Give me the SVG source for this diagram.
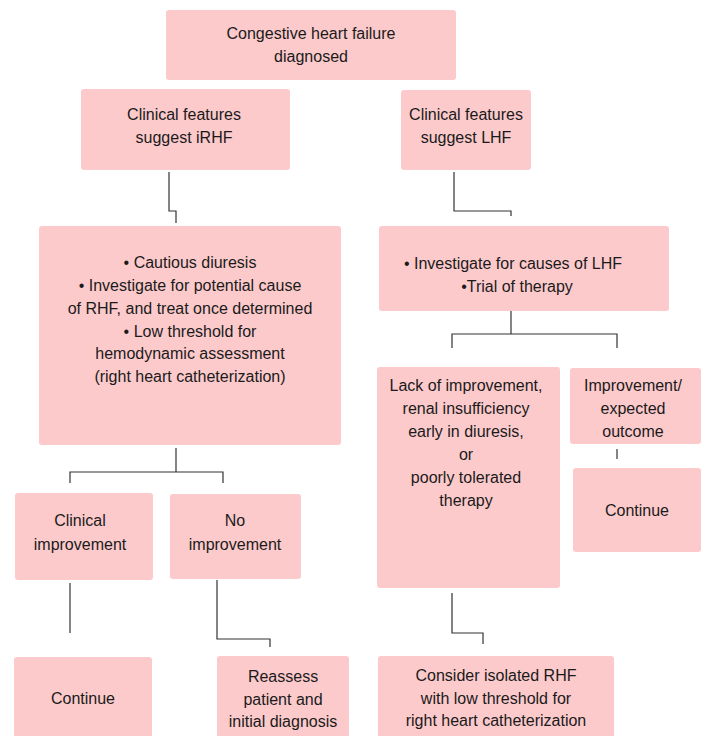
<svg xmlns="http://www.w3.org/2000/svg" width="708" height="736" viewBox="0 0 708 736">
<style>
.box{fill:#fdcacc;}
.t{font-family:"Liberation Sans",Arial,sans-serif;font-size:16px;fill:#1a1a1a;text-anchor:middle;}
.c{fill:none;stroke:#333;stroke-width:1.2;}
</style>
<rect width="708" height="736" fill="#fff"/>
<g id="connectors">
<polyline class="c" points="169,172 169,211 176,211 176,223"/>
<polyline class="c" points="454,172 454,211 511,211 511,216"/>
<polyline class="c" points="176,448 176,472"/>
<polyline class="c" points="70,483 70,472 223,472 223,483"/>
<polyline class="c" points="70,583 70,633"/>
<polyline class="c" points="217,580 217,639 270,639 270,647"/>
<polyline class="c" points="511,311 511,334"/>
<polyline class="c" points="452,348 452,334 617,334 617,348"/>
<polyline class="c" points="617,449 617,459"/>
<polyline class="c" points="452,593 452,633 483,633 483,644"/>
</g>
<g id="n_chf"><rect class="box" x="166" y="10" width="290" height="70" rx="3"/>
<text class="t" x="311" y="39">Congestive heart failure</text><text class="t" x="311" y="62">diagnosed</text></g>
<g id="n_irhf"><rect class="box" x="81" y="89" width="209" height="81" rx="3"/>
<text class="t" x="184" y="120">Clinical features</text><text class="t" x="184" y="143">suggest iRHF</text></g>
<g id="n_lhf"><rect class="box" x="401" y="90" width="130" height="80" rx="3"/>
<text class="t" x="466" y="120">Clinical features</text><text class="t" x="466" y="143">suggest LHF</text></g>
<g id="n_irhf_mgmt"><rect class="box" x="39" y="226" width="302" height="219" rx="3"/>
<text class="t" x="190" y="268">• Cautious diuresis</text>
<text class="t" x="190" y="291">• Investigate for potential cause</text>
<text class="t" x="190" y="314">of RHF, and treat once determined</text>
<text class="t" x="190" y="337">• Low threshold for</text>
<text class="t" x="190" y="359">hemodynamic assessment</text>
<text class="t" x="190" y="382">(right heart catheterization)</text></g>
<g id="n_lhf_mgmt"><rect class="box" x="379" y="226" width="290" height="85" rx="3"/>
<text class="t" x="513" y="269">• Investigate for causes of LHF</text>
<text class="t" x="517" y="292">•Trial of therapy</text></g>
<g id="n_lack"><rect class="box" x="377" y="367" width="183" height="221" rx="3"/>
<text class="t" x="466" y="391">Lack of improvement,</text>
<text class="t" x="466" y="414">renal insufficiency</text>
<text class="t" x="466" y="437">early in diuresis,</text>
<text class="t" x="466" y="460">or</text>
<text class="t" x="466" y="483">poorly tolerated</text>
<text class="t" x="466" y="506">therapy</text></g>
<g id="n_improve"><rect class="box" x="570" y="368" width="131" height="76" rx="3"/>
<text class="t" x="633" y="391">Improvement/</text>
<text class="t" x="633" y="414">expected</text>
<text class="t" x="633" y="437">outcome</text></g>
<g id="n_continue_r"><rect class="box" x="573" y="468" width="128" height="84" rx="3"/>
<text class="t" x="637" y="516">Continue</text></g>
<g id="n_clin_imp"><rect class="box" x="15" y="493" width="138" height="87" rx="3"/>
<text class="t" x="80" y="526">Clinical</text>
<text class="t" x="80" y="550">improvement</text></g>
<g id="n_no_imp"><rect class="box" x="170" y="494" width="131" height="85" rx="3"/>
<text class="t" x="235" y="526">No</text>
<text class="t" x="235" y="550">improvement</text></g>
<g id="n_continue_l"><rect class="box" x="14" y="657" width="138" height="90" rx="3"/>
<text class="t" x="83" y="704">Continue</text></g>
<g id="n_reassess"><rect class="box" x="217" y="656" width="132" height="90" rx="3"/>
<text class="t" x="283" y="682">Reassess</text>
<text class="t" x="283" y="705">patient and</text>
<text class="t" x="283" y="727">initial diagnosis</text></g>
<g id="n_consider"><rect class="box" x="378" y="656" width="236" height="90" rx="3"/>
<text class="t" x="496" y="681">Consider isolated RHF</text>
<text class="t" x="496" y="704">with low threshold for</text>
<text class="t" x="496" y="726">right heart catheterization</text></g>
</svg>
